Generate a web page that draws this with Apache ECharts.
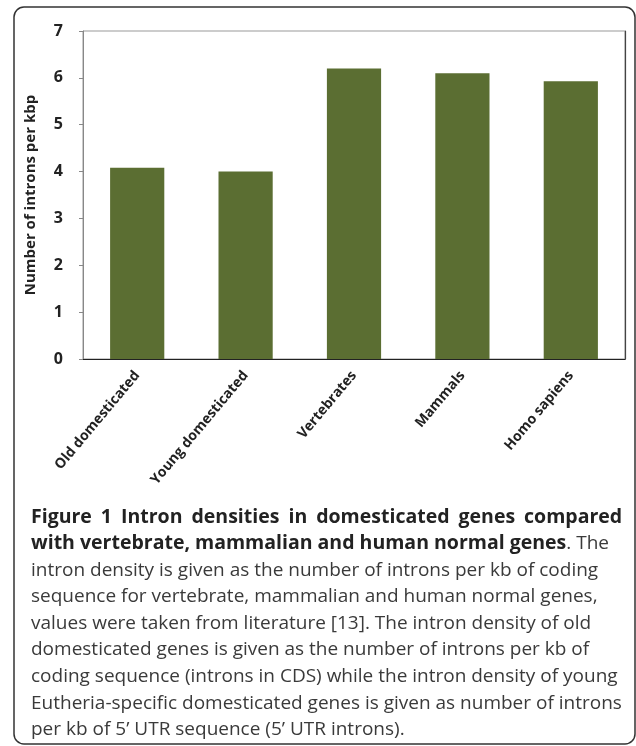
<!DOCTYPE html>
<html>
<head>
<meta charset="utf-8">
<script src="https://cdn.jsdelivr.net/npm/echarts@6/dist/echarts.min.js"></script>
<style>
  html, body { margin: 0; padding: 0; background: #fff; }
  #chart { width: 636px; height: 746px; }
</style>
</head>
<body>
<div id="chart"></div>
<script>
// 数据
var categories = ['Old domesticated', 'Young domesticated', 'Vertebrates', 'Mammals', 'Homo sapiens'];
var introns = [4.08, 4.0, 6.2, 6.1, 5.93];
var yTicks = [0, 7, 1]; // min, max, interval

// 第一行两端对齐：空格用加宽的 sp 片段
var captionLines = [
    '{b|Figure}{sp| }{b|1}{sp| }{b|Intron}{sp| }{b|densities}{sp| }{b|in}{sp| }{b|domesticated}{sp| }{b|genes}{sp| }{b|compared}',
    '{b|with vertebrate, mammalian and human normal genes}{n|. The}',
    '{n|intron density is given as the number of introns per kb of coding}',
    '{n|sequence for vertebrate, mammalian and human normal genes,}',
    '{n|values were taken from literature [13]. The intron density of old}',
    '{n|domesticated genes is given as the number of introns per kb of}',
    '{n|coding sequence (introns in CDS) while the intron density of young}',
    '{n|Eutheria-specific domesticated genes is given as number of introns}',
    '{n|per kb of 5\u2019 UTR sequence (5\u2019 UTR introns).}'
];

var chart = echarts.init(document.getElementById('chart'), null, {renderer: 'canvas'});

var font = '"Open Sans", "DejaVu Sans", sans-serif';

option = {
    animation: false,
    grid: {
        left: 83,
        top: 31,
        right: 11,
        bottom: 387,
        show: true,
        borderColor: '#999',
        borderWidth: 1
    },
    xAxis: {
        type: 'category',
        data: categories,
        axisLine: { lineStyle: { color: '#222', width: 1.2 } },
        axisTick: { show: false },
        axisLabel: {
            interval: 0,
            rotate: 50,
            margin: 14,
            fontFamily: font,
            fontWeight: 'bold',
            fontSize: 14,
            color: '#222'
        }
    },
    yAxis: [
        {
            type: 'value',
            min: yTicks[0],
            max: yTicks[1],
            interval: yTicks[2],
            name: 'Number of introns per kbp',
            nameLocation: 'middle',
            nameRotate: 90,
            nameGap: 45,
            nameTextStyle: {
                fontFamily: font,
                fontWeight: 'bold',
                fontSize: 15,
                color: '#222'
            },
            axisLine: { show: true, lineStyle: { color: '#888' } },
            axisTick: { show: true, length: 4, lineStyle: { color: '#888' } },
            splitLine: { show: false },
            axisLabel: {
                margin: 20,
                fontFamily: font,
                fontWeight: 'bold',
                fontSize: 16,
                color: '#222'
            }
        },
        {
            // 右边框
            type: 'value',
            position: 'right',
            min: yTicks[0],
            max: yTicks[1],
            interval: yTicks[2],
            axisLine: { show: true, lineStyle: { color: '#444', width: 1.2 } },
            axisTick: { show: false },
            axisLabel: { show: false },
            splitLine: { show: false }
        }
    ],
    series: [
        {
            type: 'bar',
            data: introns,
            barWidth: '50%',
            itemStyle: { color: '#5b6e32' }
        }
    ],
    graphic: [
        {
            type: 'rect',
            shape: { x: 14, y: 7, width: 621, height: 737, r: 10 },
            style: { fill: 'none', stroke: '#333', lineWidth: 1.5 },
            silent: true
        },
        {
            type: 'text',
            left: 31,
            top: 507,
            style: {
                text: captionLines.join('\n'),
                rich: {
                    b: {
                        fontFamily: font,
                        fontWeight: 'bold',
                        fontSize: 19.5,
                        lineHeight: 26.6,
                        fill: '#222'
                    },
                    sp: {
                        fontFamily: font,
                        fontWeight: 'bold',
                        fontSize: 19.5,
                        lineHeight: 26.6,
                        width: 9
                    },
                    n: {
                        fontFamily: font,
                        fontWeight: 'normal',
                        fontSize: 19,
                        lineHeight: 26.6,
                        fill: '#3a3a3a'
                    }
                }
            }
        }
    ]
};
chart.setOption(option);
</script>
</body>
</html>
